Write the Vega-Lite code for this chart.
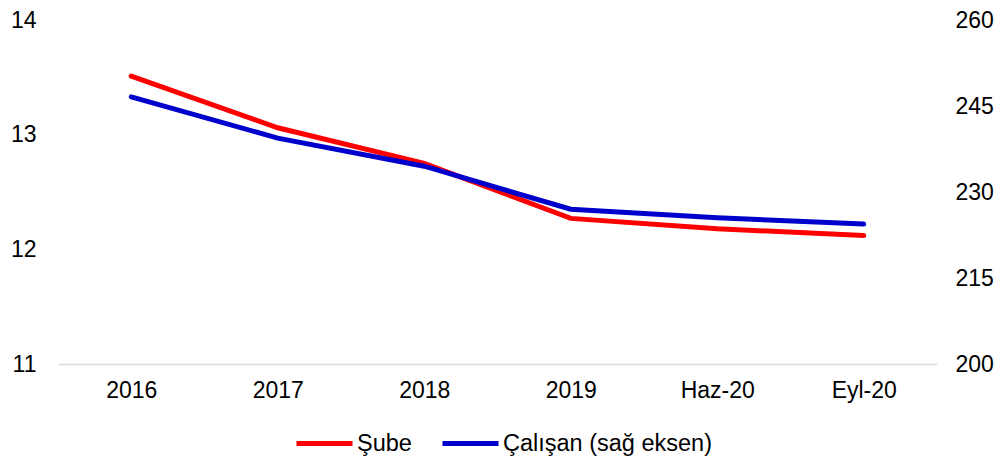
{
  "$schema": "https://vega.github.io/schema/vega-lite/v6.json",
  "width": 879,
  "height": 344,
  "padding": {"left": 58, "top": 20, "right": 63, "bottom": 98},
  "autosize": {"type": "none"},
  "background": "white",
  "config": {
    "view": {"stroke": null},
    "font": "Liberation Sans",
    "axis": {"labelFont": "Liberation Sans", "labelFontSize": 23, "labelColor": "#000000", "ticks": false, "grid": false, "title": null},
    "legend": {"labelFont": "Liberation Sans", "labelFontSize": 23.5, "labelColor": "#000000", "labelLimit": 500}
  },
  "data": {
    "values": [
      {"donem": "2016", "sube": 13.51, "calisan": 246.6},
      {"donem": "2017", "sube": 13.06, "calisan": 239.4},
      {"donem": "2018", "sube": 12.75, "calisan": 234.5},
      {"donem": "2019", "sube": 12.27, "calisan": 227.0},
      {"donem": "Haz-20", "sube": 12.18, "calisan": 225.5},
      {"donem": "Eyl-20", "sube": 12.12, "calisan": 224.4}
    ]
  },
  "encoding": {
    "x": {
      "field": "donem",
      "type": "ordinal",
      "sort": null,
      "scale": {"paddingInner": 0, "paddingOuter": 0.5},
      "axis": {"labelAngle": 0, "domainColor": "#D9D9D9", "domainWidth": 1.5, "labelPadding": 15}
    },
    "color": {
      "type": "nominal",
      "scale": {"domain": ["Şube", "Çalışan (sağ eksen)"], "range": ["#FF0000", "#0000CC"]},
      "legend": {
        "title": null,
        "orient": "none",
        "direction": "horizontal",
        "legendX": 236,
        "legendY": 393,
        "symbolType": "stroke",
        "symbolSize": 3136,
        "symbolStrokeWidth": 5,
        "labelOffset": 2,
        "labelLimit": 500,
        "columnPadding": 20
      }
    }
  },
  "layer": [
    {
      "mark": {"type": "line", "strokeWidth": 5, "strokeCap": "round"},
      "encoding": {
        "y": {
          "field": "sube",
          "type": "quantitative",
          "scale": {"domain": [11, 14], "zero": false, "nice": false},
          "axis": {"orient": "left", "values": [11, 12, 13, 14], "domain": false, "labelPadding": 22}
        },
        "color": {"datum": "Şube"}
      }
    },
    {
      "mark": {"type": "line", "strokeWidth": 5, "strokeCap": "round"},
      "encoding": {
        "y": {
          "field": "calisan",
          "type": "quantitative",
          "scale": {"domain": [200, 260], "zero": false, "nice": false},
          "axis": {"orient": "right", "values": [200, 215, 230, 245, 260], "domain": false, "labelPadding": 18}
        },
        "color": {"datum": "Çalışan (sağ eksen)"}
      }
    }
  ],
  "resolve": {"scale": {"y": "independent"}}
}
